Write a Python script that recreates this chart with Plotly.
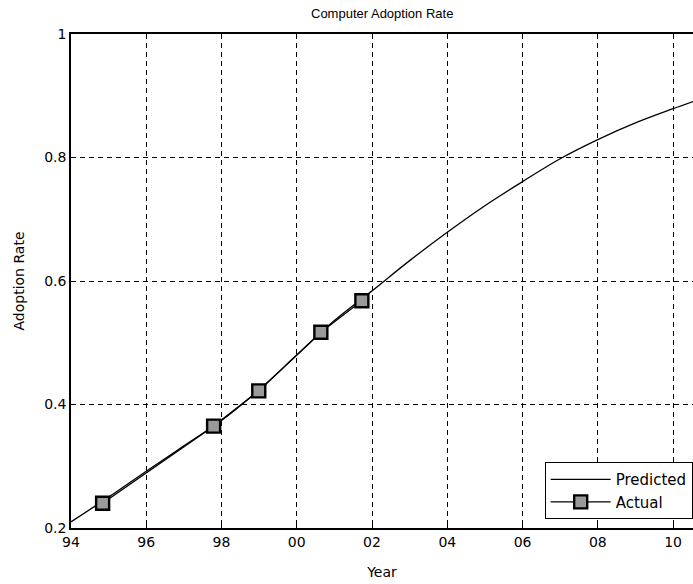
import plotly.graph_objects as go

# Predicted curve (year, adoption rate)
pred_years = [1994, 1995, 1996, 1997, 1998, 1999, 2000, 2001, 2002, 2003,
              2004, 2005, 2006, 2007, 2008, 2009, 2010, 2010.6]
pred_rates = [0.210, 0.250, 0.292, 0.333, 0.374, 0.424, 0.480, 0.536, 0.584, 0.633,
              0.679, 0.722, 0.761, 0.798, 0.829, 0.856, 0.879, 0.892]

# Actual observations
act_years = [1994.84, 1997.79, 1998.99, 2000.64, 2001.73]
act_rates = [0.240, 0.365, 0.422, 0.517, 0.568]

tick_vals = [1994, 1996, 1998, 2000, 2002, 2004, 2006, 2008, 2010]
tick_text = ["94", "96", "98", "00", "02", "04", "06", "08", "10"]
y_ticks = [0.2, 0.4, 0.6, 0.8, 1]
y_text = ["0.2", "0.4", "0.6", "0.8", "1"]

TITLE_FONT = "Liberation Sans, Arial, sans-serif"
FONT = "DejaVu Sans, sans-serif"

fig = go.Figure()
fig.add_trace(go.Scatter(
    x=pred_years, y=pred_rates, mode="lines", name="Predicted",
    line=dict(color="black", width=1.3, shape="spline", smoothing=1.0),
))
fig.add_trace(go.Scatter(
    x=act_years, y=act_rates, mode="lines+markers", name="Actual",
    line=dict(color="black", width=1.3),
    marker=dict(symbol="square", size=13, color="#9a9a9a",
                line=dict(color="black", width=2.4)),
))

fig.update_layout(
    width=693, height=584,
    margin=dict(l=71, r=0, t=34, b=56),
    paper_bgcolor="white", plot_bgcolor="white",
    font=dict(family=FONT, size=14, color="black"),
    title=dict(text="Computer Adoption Rate", x=0.5515, xanchor="center",
               y=1 - 13 / 584, yanchor="middle",
               font=dict(family=TITLE_FONT, size=13)),
    showlegend=True,
    legend=dict(x=0.9995, xanchor="right", y=0.018, yanchor="bottom",
                bgcolor="white", bordercolor="black", borderwidth=1,
                font=dict(size=15), tracegroupgap=0, itemwidth=60),
    xaxis=dict(
        range=[1994, 2010.53], tickvals=tick_vals, ticktext=tick_text,
        showgrid=True, gridcolor="black", gridwidth=1, griddash="5px,4px",
        showline=True, linecolor="black", linewidth=1.5, mirror=True,
        ticks="inside", ticklen=5, tickcolor="black",
        zeroline=False,
        title=dict(text="Year", standoff=19, font=dict(size=14)),
        tickfont=dict(size=14),
    ),
    yaxis=dict(
        range=[0.2, 1.0], tickvals=y_ticks, ticktext=y_text,
        showgrid=True, gridcolor="black", gridwidth=1, griddash="5px,4px",
        showline=True, linecolor="black", linewidth=1.5, mirror=False,
        ticks="inside", ticklen=5, tickcolor="black",
        zeroline=False,
        title=dict(text="Adoption Rate", standoff=16, font=dict(size=14)),
        tickfont=dict(size=14),
    ),
)

fig.write_html("out.html")
